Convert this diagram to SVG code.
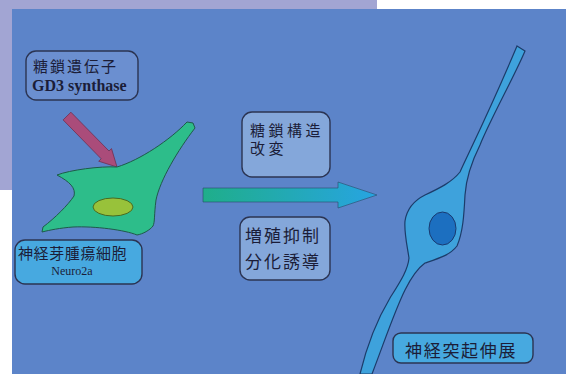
<svg xmlns="http://www.w3.org/2000/svg" width="572" height="374" viewBox="0 0 572 374">
  <defs>
    <linearGradient id="flowGrad" x1="0" y1="0" x2="1" y2="0">
      <stop offset="0" stop-color="#1fae8a"/>
      <stop offset="1" stop-color="#27a4e2"/>
    </linearGradient>
    <style>
      .box { stroke: #2b3452; stroke-width: 1.4; }
      .plain { fill: #6b8fd0; }
      .pale { fill: #84a7da; }
      .cyan { fill: #47a9e0; }
      .jp { font-family: "Liberation Serif", "Noto Sans CJK JP", serif; fill: #1b1d38; }
      .lat { font-family: "Liberation Serif", serif; fill: #1b1d38; }
    </style>
  </defs>

  <!-- page background and slide panel -->
  <rect x="0" y="0" width="572" height="374" fill="#ffffff"/>
  <polygon points="0,0 377,0 377,9 12,9 12,190 0,190" fill="#a2a5d3"/>
  <rect x="12" y="9" width="554" height="365" fill="#5c84c9"/>

  <!-- connectors -->
  <g id="connectors">
    <polygon points="70.9,112.2 109,151 111.5,148.6 117,167 98.7,161.2 101.2,158.8 63.1,119.9" fill="#aa4c7a" stroke="#6e3050" stroke-width="0.8"/>
    <polygon points="203,188 338,188 338,182 377,195 338,208 338,202 203,202" fill="url(#flowGrad)" stroke="#2a4a6a" stroke-width="0.6"/>
  </g>

  <!-- undifferentiated cell -->
  <g id="cell-neuro2a">
    <path d="M57,175 C70,170 100,166 117,167 C140,160 170,140 187,122 L193,123 L195,128 C178,150 160,180 156,200 C154,215 155,222 153,226 C150,230 143,234 137,235 C125,230 95,226 73,227 C60,228 50,230 42,232 L43,227 C55,218 68,205 74,196 C76,188 70,182 57,175 Z" fill="#2dbd8a" stroke="#1f5a4a" stroke-width="1"/>
    <ellipse cx="113" cy="207" rx="20" ry="9" fill="#98c23a" stroke="#4a6a20" stroke-width="1"/>
  </g>

  <!-- differentiated neuron -->
  <g id="neuron">
    <path d="M517,46 L525,51 C515,75 490,120 480,145 C470,165 466,180 465,195 C464,215 463,232 457,246 C450,255 440,258 425,263 C418,268 412,276 405,290 C395,310 385,340 372,374 L360,374 C367,345 378,318 390,298 C400,282 408,270 409,258 C407,245 404,232 405,221 C407,208 415,200 425,195 C440,188 452,182 460,172 C470,150 490,110 517,46 Z" fill="#3ea2dc" stroke="#1c3c6a" stroke-width="1.2"/>
    <ellipse cx="442.5" cy="228.5" rx="13.5" ry="16.5" fill="#1c6fc0" stroke="#1a3a70" stroke-width="1"/>
  </g>

  <!-- labels -->
  <g id="gene">
    <rect class="box plain" x="26" y="51" width="112" height="49" rx="10"/>
    <text class="jp" x="33" y="72" font-size="15" letter-spacing="2">糖鎖遺伝子</text>
    <text class="lat" x="32" y="91" font-size="16" font-weight="bold">GD3 synthase</text>
  </g>

  <g id="cell-label">
    <rect class="box cyan" x="15" y="240" width="127" height="44" rx="10"/>
    <text class="jp" x="18" y="259" font-size="15" letter-spacing="0.6">神経芽腫瘍細胞</text>
    <text class="lat" x="72" y="275" font-size="12" text-anchor="middle">Neuro2a</text>
  </g>

  <g id="glycan-change">
    <rect class="box pale" x="242" y="112" width="88" height="65" rx="10"/>
    <text class="jp" x="250" y="136" font-size="15" letter-spacing="3.5">糖鎖構造</text>
    <text class="jp" x="250" y="154" font-size="15" letter-spacing="3.5">改変</text>
  </g>

  <g id="growth-change">
    <rect class="box pale" x="240" y="217" width="90" height="63" rx="10"/>
    <text class="jp" x="245" y="242" font-size="17" letter-spacing="2">増殖抑制</text>
    <text class="jp" x="245" y="268" font-size="17" letter-spacing="2">分化誘導</text>
  </g>

  <g id="neurite-label">
    <rect class="box cyan" x="393" y="333" width="140" height="30" rx="8"/>
    <text class="jp" x="405" y="357" font-size="17" letter-spacing="1.7">神経突起伸展</text>
  </g>
</svg>
